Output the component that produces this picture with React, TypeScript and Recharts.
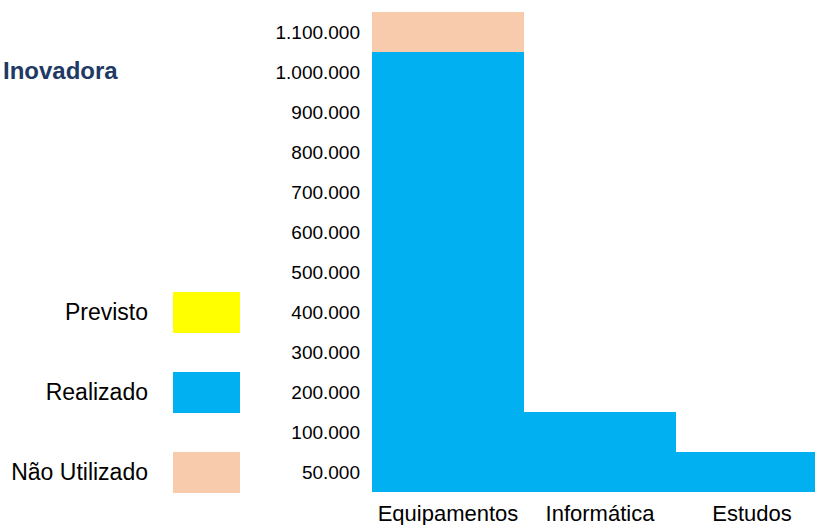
import React from "react";
import { BarChart, Bar, XAxis, YAxis } from "recharts";

// Categories on the X axis
const categories = ["Equipamentos", "Informática", "Estudos"];

// Y axis tick labels (the axis is an ordered label scale, one band per label)
const yTickLabels = [
  "50.000",
  "100.000",
  "200.000",
  "300.000",
  "400.000",
  "500.000",
  "600.000",
  "700.000",
  "800.000",
  "900.000",
  "1.000.000",
  "1.100.000",
];

// Series values, expressed in the units of the label scale above
const realizado = [11, 2, 1];
const naoUtilizado = [1, 0, 0];

// Legend entries
const legendLabels = ["Previsto", "Realizado", "Não Utilizado"];
const legendColors = ["#FFFF00", "#00B0F0", "#F8CBAD"];

const data = categories.map((c, i) => ({
  name: c,
  realizado: realizado[i],
  naoUtilizado: naoUtilizado[i],
}));

const yTicks = yTickLabels.map((_, i) => i + 0.5);

const FONT = "'Liberation Sans', Arial, sans-serif";

export default function App() {
  return (
    <div
      style={{
        position: "relative",
        width: 815,
        height: 525,
        overflow: "hidden",
        fontFamily: FONT,
        background: "#fff",
      }}
    >
      <style>{`html,body{margin:0;padding:0;overflow:hidden;background:#fff}`}</style>
      <BarChart
        width={828}
        height={525}
        data={data}
        margin={{ top: 12, right: 0, bottom: 0, left: 0 }}
        barCategoryGap={0}
        barGap={0}
        style={{ position: "absolute", left: 0, top: 0 }}
      >
        <XAxis
          dataKey="name"
          height={33}
          axisLine={false}
          tickLine={false}
          tickSize={6}
          tickMargin={7}
          interval={0}
          tick={{ fontSize: 22, fill: "#000", fontFamily: FONT }}
        />
        <YAxis
          type="number"
          width={372}
          domain={[0, 12]}
          ticks={yTicks}
          interval={0}
          axisLine={false}
          tickLine={false}
          tickSize={6}
          tickMargin={6}
          tickFormatter={(v: number) => yTickLabels[Math.round(v - 0.5)] ?? ""}
          tick={{ fontSize: 19, fill: "#000", fontFamily: FONT }}
        />
        <Bar dataKey="realizado" stackId="a" fill="#00B0F0" isAnimationActive={false} />
        <Bar dataKey="naoUtilizado" stackId="a" fill="#F8CBAD" isAnimationActive={false} />
      </BarChart>

      <div
        style={{
          position: "absolute",
          left: 3,
          top: 57,
          fontSize: 24,
          fontWeight: "bold",
          color: "#203864",
          lineHeight: "28px",
          fontFamily: FONT,
        }}
      >
        Inovadora
      </div>

      {legendLabels.map((label, i) => (
        <React.Fragment key={label}>
          <div
            style={{
              position: "absolute",
              right: 815 - 148,
              top: 292 + i * 80,
              height: 41,
              lineHeight: "41px",
              fontSize: 23,
              color: "#000",
              whiteSpace: "nowrap",
              textAlign: "right",
              fontFamily: FONT,
            }}
          >
            {label}
          </div>
          <div
            style={{
              position: "absolute",
              left: 173,
              top: 292 + i * 80,
              width: 67,
              height: 41,
              background: legendColors[i],
            }}
          />
        </React.Fragment>
      ))}
    </div>
  );
}
